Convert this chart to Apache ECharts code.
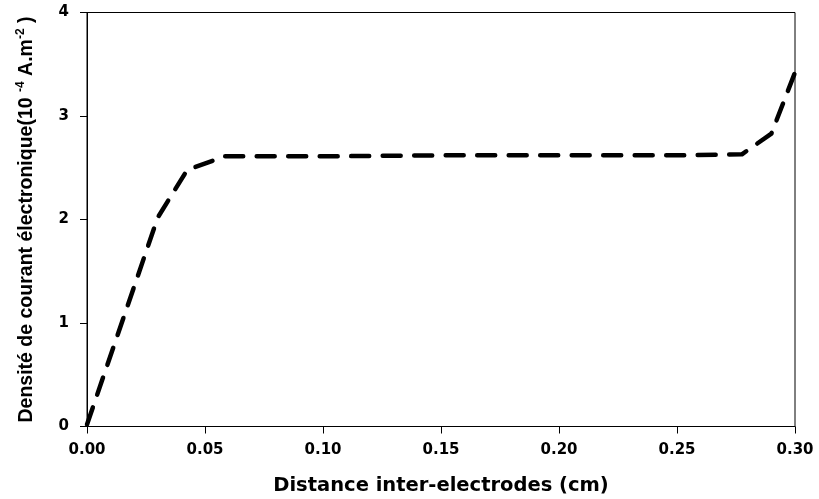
<!DOCTYPE html>
<html>
<head>
<meta charset="utf-8">
<script src="https://cdn.jsdelivr.net/npm/echarts@6/dist/echarts.min.js"></script>
<style>
  html, body { margin: 0; padding: 0; background: #fff; }
  #chart { width: 819px; height: 499px; }
</style>
</head>
<body>
<div id="chart"></div>
<script>
// Electron current density along the inter-electrode gap
const distanceCm = [0.0, 0.030, 0.0425, 0.0585, 0.10, 0.15, 0.20, 0.25, 0.2775, 0.290, 0.300];
const currentDensity = [0.02, 2.02, 2.48, 2.61, 2.61, 2.62, 2.62, 2.62, 2.63, 2.83, 3.42];
const xTicks = [0.00, 0.05, 0.10, 0.15, 0.20, 0.25, 0.30];
const yTicks = [0, 1, 2, 3, 4];

const chart = echarts.init(document.getElementById('chart'));
const wideFont = '"DejaVu Sans", Verdana, sans-serif';
const arialFont = '"Liberation Sans", Arial, sans-serif';

chart.setOption({
  animation: false,
  grid: {
    left: 87, right: 24, top: 12.5, bottom: 72.5,
    containLabel: false, outerBoundsMode: 'none',
    show: true, borderColor: '#000', borderWidth: 1, backgroundColor: 'transparent'
  },
  xAxis: {
    type: 'value',
    min: xTicks[0], max: xTicks[xTicks.length - 1], interval: 0.05,
    name: 'Distance inter-electrodes (cm)',
    nameLocation: 'middle', nameGap: 49.5,
    nameTextStyle: { fontFamily: wideFont, fontWeight: 'bold', fontSize: 19.5, color: '#000' },
    axisLine: { show: true, lineStyle: { color: '#000', width: 1 } },
    axisTick: { show: true, length: 7, inside: false, lineStyle: { color: '#000' } },
    axisLabel: {
      margin: 16, fontFamily: wideFont, fontWeight: 'bold', fontSize: 15, color: '#000',
      formatter: v => v.toFixed(2)
    },
    splitLine: { show: false }
  },
  yAxis: {
    type: 'value',
    min: yTicks[0], max: yTicks[yTicks.length - 1], interval: 1,
    name: '{t|Densité de courant électronique(10 }{s|-4}{t| A.m}{s|-2}{t| )}',
    nameLocation: 'middle', nameGap: 48,
    nameTextStyle: {
      color: '#000',
      rich: {
        t: { fontFamily: arialFont, fontWeight: 'bold', fontSize: 19.5, color: '#000', lineHeight: 24 },
        s: { fontFamily: arialFont, fontWeight: 'bold', fontSize: 12, color: '#000', verticalAlign: 'top', lineHeight: 24, padding: [0, 0, 10, 0] }
      }
    },
    axisLine: { show: true, lineStyle: { color: '#000', width: 1 } },
    axisTick: { show: true, length: 7, inside: false, lineStyle: { color: '#000' } },
    axisLabel: {
      margin: 18, fontFamily: wideFont, fontWeight: 'bold', fontSize: 15, color: '#000'
    },
    splitLine: { show: false }
  },
  series: [{
    type: 'line',
    data: distanceCm.map((x, i) => [x, currentDensity[i]]),
    showSymbol: false,
    smooth: false,
    lineStyle: { color: '#000', width: 4.5, type: [18, 13.5], cap: 'round', join: 'round' }
  }]
});
</script>
</body>
</html>
